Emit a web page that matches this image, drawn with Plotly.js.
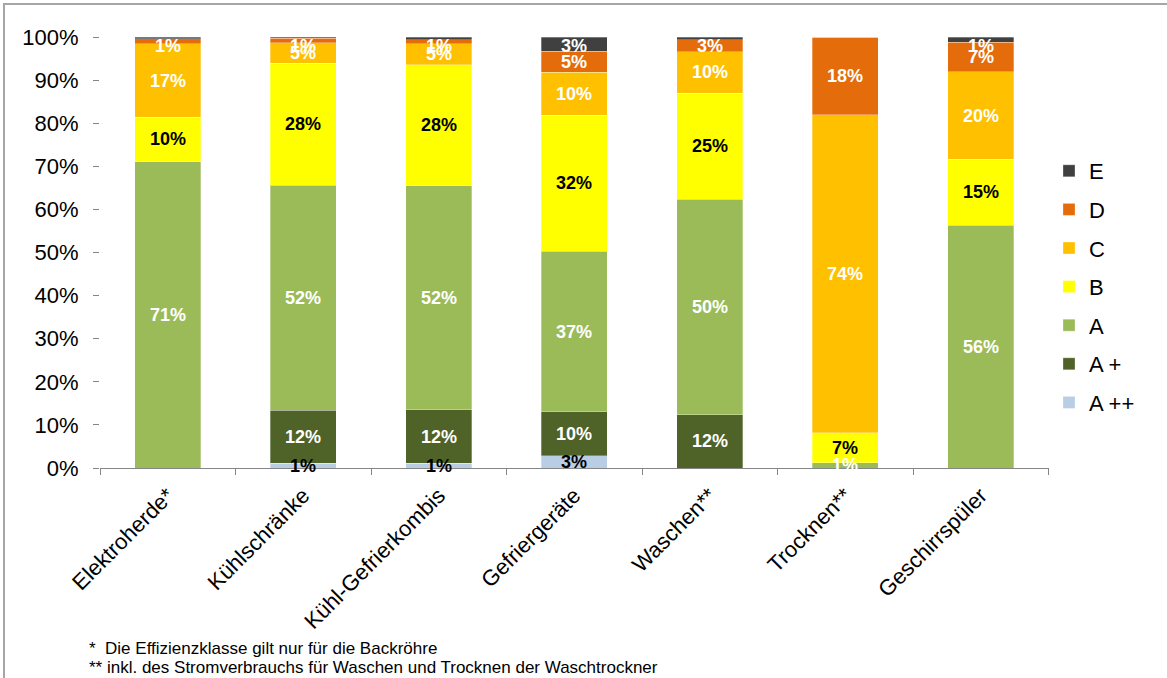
<!DOCTYPE html>
<html>
<head>
<meta charset="utf-8">
<script src="https://cdn.plot.ly/plotly-3.0.1.min.js"></script>
<style>
html, body { margin: 0; padding: 0; background: #fff; }
#wrap { position: relative; width: 1167px; height: 678px; overflow: hidden; }
#chart { position: absolute; left: 0; top: 0; width: 1167px; height: 678px; }
#frame { position: absolute; left: 3px; top: 3px; width: 2000px; height: 2000px;
  border-left: 2px solid #a6a6a6; border-top: 2px solid #a6a6a6; pointer-events: none; }
</style>
</head>
<body>
<div id="wrap">
  <div id="chart"></div>
  <div id="frame"></div>
</div>
<script>
const categories = ['Elektroherde*', 'Kühlschränke', 'Kühl-Gefrierkombis', 'Gefriergeräte', 'Waschen**', 'Trocknen**', 'Geschirrspüler'];

const valAplusplus = [0, 1.1, 1.1, 2.8, 0, 0, 0];
const valAplus     = [0, 12.3, 12.4, 10.2, 12.4, 0, 0];
const valA         = [71.1, 52.2, 52.0, 37.3, 50.0, 1.2, 56.3];
const valB         = [10.3, 28.3, 28.1, 31.6, 24.6, 7.0, 15.3];
const valC         = [17.0, 4.8, 4.8, 9.9, 9.6, 73.8, 20.3];
const valD         = [1.2, 1.0, 1.0, 4.9, 2.8, 18.0, 6.9];
const valE         = [0.4, 0.3, 0.6, 3.3, 0.6, 0, 1.2];

const seriesNames  = ['A ++', 'A +', 'A', 'B', 'C', 'D', 'E'];
const seriesValues = [valAplusplus, valAplus, valA, valB, valC, valD, valE];
const seriesColors = ['#B9CDE5', '#4F6228', '#9BBB59', '#FFFF00', '#FFC000', '#E46C0A', '#404040'];
const labelColors  = ['#000000', '#ffffff', '#ffffff', '#000000', '#ffffff', '#ffffff', '#ffffff'];

const footnote1 = '*  Die Effizienzklasse gilt nur für die Backröhre';
const footnote2 = '** inkl. des Stromverbrauchs für Waschen und Trocknen der Waschtrockner';

const FONT = 'Liberation Sans, Arial, sans-serif';

const traces = seriesNames.map((name, i) => ({
  type: 'bar',
  name: name,
  legendgroup: name,
  legendrank: 100 - i,
  x: categories,
  y: seriesValues[i],
  marker: { color: seriesColors[i], line: { color: 'rgba(255,255,255,0.5)', width: 0.6 } },
  hoverinfo: 'skip'
}));

// data labels: centred in each stacked segment, kept inside the plot top like the original
const labelAnnotations = [];
categories.forEach((cat, c) => {
  let base = 0;
  seriesValues.forEach((vals, i) => {
    const v = vals[c];
    if (v >= 1) {
      const mid = Math.min(base + v / 2, 97.8);
      labelAnnotations.push({
        x: cat, y: mid, xref: 'x', yref: 'y',
        text: '<b>' + Math.round(v) + '%</b>',
        showarrow: false, xanchor: 'center', yanchor: 'middle',
        font: { family: FONT, size: 18, color: labelColors[i] }
      });
    }
    base += v;
  });
});

const L = 99.5, R = 1066.5, T = 37, B = 468;
const pw = R - L, ph = B - T;
const px2x = p => (p - L) / pw;
const py2y = p => (B - p) / ph;

const layout = {
  width: 1167,
  height: 678,
  barmode: 'stack',
  bargap: 0.514,
  paper_bgcolor: '#ffffff',
  plot_bgcolor: '#ffffff',
  margin: { l: L, r: 1167 - R, t: T, b: 678 - B, pad: 0 },
  font: { family: FONT, color: '#000000' },
  showlegend: true,
  legend: {
    xref: 'container', yref: 'container',
    x: 1049 / 1167, y: 1 - 150 / 678,
    xanchor: 'left', yanchor: 'top',
    traceorder: 'grouped',
    tracegroupgap: 7,
    font: { family: FONT, size: 22, color: '#000000' },
    bgcolor: 'rgba(0,0,0,0)',
    itemclick: false
  },
  xaxis: {
    type: 'category',
    tickangle: -45,
    tickson: 'boundaries',
    ticks: 'outside',
    ticklen: 6,
    tickcolor: '#868686',
    ticklabelstandoff: 5,
    showline: true,
    linecolor: '#868686',
    linewidth: 1,
    showgrid: false,
    zeroline: false,
    tickfont: { family: FONT, size: 22, color: '#000000' }
  },
  yaxis: {
    range: [0, 100],
    dtick: 10,
    tick0: 0,
    ticksuffix: '%',
    ticks: 'outside',
    ticklen: 6,
    tickcolor: '#868686',
    ticklabelstandoff: 10,
    showline: false,
    showgrid: false,
    zeroline: false,
    tickfont: { family: FONT, size: 22, color: '#000000' }
  },
  annotations: labelAnnotations.concat([
    { xref: 'paper', yref: 'paper', x: px2x(86), y: py2y(648), xanchor: 'left', yanchor: 'middle',
      text: footnote1, showarrow: false, font: { family: FONT, size: 17, color: '#000000' } },
    { xref: 'paper', yref: 'paper', x: px2x(86), y: py2y(667), xanchor: 'left', yanchor: 'middle',
      text: footnote2, showarrow: false, font: { family: FONT, size: 17, color: '#000000' } }
  ])
};

Plotly.newPlot('chart', traces, layout, { displayModeBar: false, staticPlot: true });
</script>
</body>
</html>
